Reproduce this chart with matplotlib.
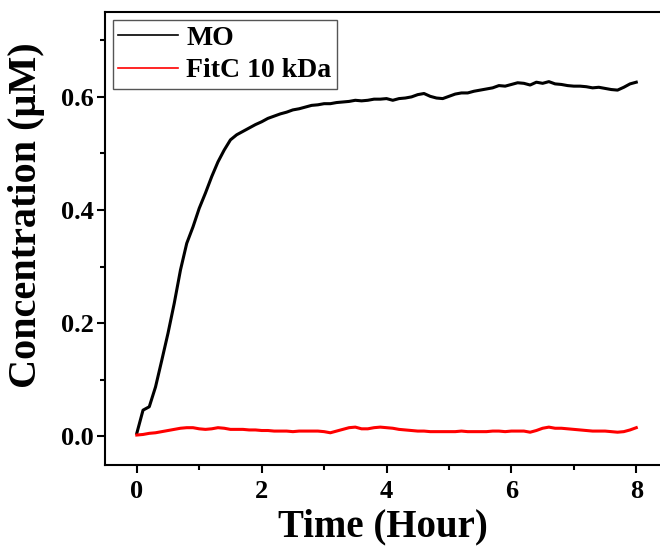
import numpy as np
import matplotlib.pyplot as plt
from matplotlib.ticker import MultipleLocator

# readings every 0.1 hour, 0 to 8 h
time_h = np.round(np.arange(0, 8.01, 0.1), 1)

mo = [0.005, 0.046, 0.052, 0.087, 0.134, 0.182, 0.235, 0.294, 0.341, 0.370,
      0.403, 0.430, 0.459, 0.485, 0.506, 0.524, 0.533, 0.539, 0.545, 0.551,
      0.556, 0.562, 0.566, 0.570, 0.573, 0.577, 0.579, 0.582, 0.585, 0.586,
      0.588, 0.588, 0.590, 0.591, 0.592, 0.594, 0.593, 0.594, 0.596, 0.596,
      0.597, 0.594, 0.597, 0.598, 0.600, 0.604, 0.606, 0.601, 0.598, 0.597,
      0.601, 0.605, 0.607, 0.607, 0.610, 0.612, 0.614, 0.616, 0.620, 0.619,
      0.622, 0.625, 0.624, 0.621, 0.626, 0.624, 0.627, 0.623, 0.622, 0.620,
      0.619, 0.619, 0.618, 0.616, 0.617, 0.615, 0.613, 0.612, 0.617, 0.623,
      0.626]

fitc = [0.002, 0.003, 0.005, 0.006, 0.008, 0.010, 0.012, 0.014, 0.015, 0.015,
        0.013, 0.012, 0.013, 0.015, 0.014, 0.012, 0.012, 0.012, 0.011, 0.011,
        0.010, 0.010, 0.009, 0.009, 0.009, 0.008, 0.009, 0.009, 0.009, 0.009,
        0.008, 0.006, 0.009, 0.012, 0.015, 0.016, 0.013, 0.013, 0.015, 0.016,
        0.015, 0.014, 0.012, 0.011, 0.010, 0.009, 0.009, 0.008, 0.008, 0.008,
        0.008, 0.008, 0.009, 0.008, 0.008, 0.008, 0.008, 0.009, 0.009, 0.008,
        0.009, 0.009, 0.009, 0.007, 0.010, 0.014, 0.016, 0.014, 0.014, 0.013,
        0.012, 0.011, 0.010, 0.009, 0.009, 0.009, 0.008, 0.007, 0.008, 0.011,
        0.015]

plt.rcParams['font.family'] = ['Liberation Serif', 'DejaVu Serif']
plt.rcParams['font.weight'] = 'bold'

fig = plt.figure(figsize=(6.6, 5.49), dpi=100)
ax = fig.add_axes([0.159, 0.153, 0.841, 0.825])

ax.plot(time_h, mo, color='black', lw=2.2, label='MO')
ax.plot(time_h, fitc, color='red', lw=2.2, label='FitC 10 kDa')

ax.set_xlim(-0.51, 8.38)
ax.set_ylim(-0.051, 0.75)
ax.xaxis.set_major_locator(MultipleLocator(2))
ax.xaxis.set_minor_locator(MultipleLocator(1))
ax.yaxis.set_major_locator(MultipleLocator(0.2))
ax.yaxis.set_minor_locator(MultipleLocator(0.1))
ax.yaxis.set_major_formatter(plt.FuncFormatter(lambda v, p: f'{v:.1f}'))

ax.tick_params(which='major', direction='out', length=6, width=1.5, labelsize=19)
ax.tick_params(axis='y', which='major', pad=2)
ax.tick_params(axis='x', which='major', pad=5)
ax.tick_params(which='minor', direction='out', length=3.5, width=1.5)
for s in ['left', 'bottom', 'top']:
    ax.spines[s].set_linewidth(1.5)
ax.spines['right'].set_visible(False)

for lab in ax.get_xticklabels() + ax.get_yticklabels():
    lab.set_fontweight('bold')

ax.set_xlabel('Time (Hour)', fontsize=28, fontweight='bold', labelpad=4)
ax.set_ylabel('Concentration (μM)', fontsize=29, fontweight='bold')
ax.yaxis.set_label_coords(-0.108, 0.552)

leg = ax.legend(loc='upper left', fontsize=20, handlelength=2.15,
                fancybox=False, framealpha=1, borderaxespad=0.28,
                borderpad=0.2, labelspacing=0.25, handletextpad=0.3)
leg.get_frame().set_edgecolor('#555555')
leg.get_frame().set_linewidth(1.0)
for t in leg.get_texts():
    t.set_fontweight('bold')
for line in leg.get_lines():
    line.set_linewidth(1.2)

fig.savefig('out.png', dpi=100)
